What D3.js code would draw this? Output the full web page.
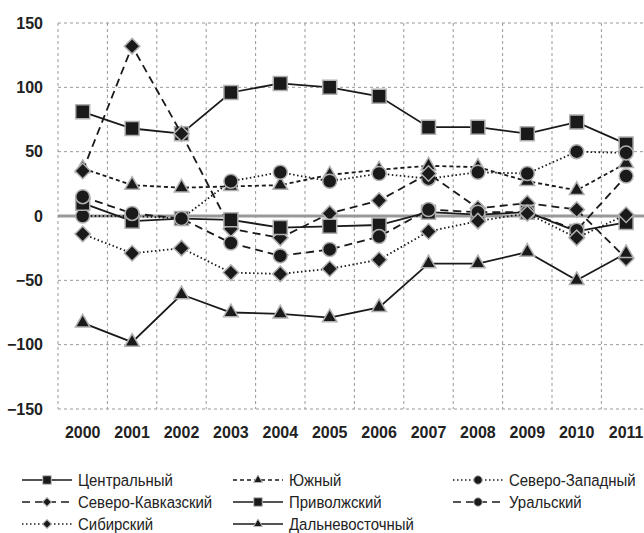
<!DOCTYPE html>
<html>
<head>
<meta charset="utf-8">
<script src="https://cdn.jsdelivr.net/npm/d3@7"></script>
<style>
body { margin: 0; background: #fff; }
svg { display: block; }
.tick text { font-family: "Liberation Sans", Arial, sans-serif; font-weight: bold; font-size: 16px; fill: #222; }
.legend text { font-family: "Liberation Sans", Arial, sans-serif; font-size: 17px; fill: #222; }
</style>
</head>
<body>
<div id="chart"></div>
<script>
var years = ["2000","2001","2002","2003","2004","2005","2006","2007","2008","2009","2010","2011"]
var yTicks = [-150,-100,-50,0,50,100,150]

var names = ["Центральный","Южный","Северо-Западный","Северо-Кавказский","Приволжский","Уральский","Сибирский","Дальневосточный"]

var central   = [81, 68, 64, 96, 103, 100, 93, 69, 69, 64, 73, 56]
var south     = [37, 24, 22, 23, 24, 32, 36, 39, 38, 27, 20, 41]
var northWest = [0, 0, -2, 27, 34, 27, 33, 29, 34, 33, 50, 49]
var northCauc = [35, 132, 64, -10, -17, 2, 12, 33, 6, 10, 5, -33]
var volga     = [10, -4, -2, -3, -9, -8, -7, 3, 1, 3, -12, -5]
var ural      = [15, 2, -2, -21, -31, -26, -16, 5, 3, 3, -11, 31]
var siberia   = [-14, -29, -25, -44, -45, -41, -34, -12, -4, 2, -17, 1]
var farEast   = [-83, -98, -61, -75, -76, -79, -71, -37, -37, -28, -50, -29]

var values = [central, south, northWest, northCauc, volga, ural, siberia, farEast]

// line dash and marker per series
var dashes = ["none", "4,3", "1.5,2.5", "8,5", "none", "8,5", "1.5,2.5", "none"]
var shapes = ["square", "triangle", "circle", "diamond", "square", "circle", "diamond", "triangle"]

var w = 644, h = 533

var svg = d3.select("#chart").append("svg").attr("width", w).attr("height", h)

var x = d3.scaleBand().domain(years).range([58, 58 + 12 * 49.4])
var y = d3.scaleLinear().domain([-150, 150]).range([409, 23])

// grid
svg.append("g").selectAll("line")
	.data(d3.range(13))
	.enter().append("line")
	.attr("x1", function(i){ return 58 + i * x.step() })
	.attr("x2", function(i){ return 58 + i * x.step() })
	.attr("y1", y(150)).attr("y2", y(-150))
	.attr("stroke", "#999").attr("stroke-width", 1).attr("stroke-dasharray", "3,3")

svg.append("g").selectAll("line")
	.data(yTicks.filter(function(d){ return d != 0 }))
	.enter().append("line")
	.attr("x1", 58).attr("x2", w)
	.attr("y1", function(d){ return y(d) })
	.attr("y2", function(d){ return y(d) })
	.attr("stroke", "#999").attr("stroke-width", 1).attr("stroke-dasharray", "3,3")

svg.append("line")
	.attr("x1", 58).attr("x2", w)
	.attr("y1", y(0)).attr("y2", y(0))
	.attr("stroke", "#999").attr("stroke-width", 3)

// axes
var yAxis = svg.append("g")
	.attr("transform", "translate(43,0)")
	.call(d3.axisLeft(y).tickValues(yTicks).tickSize(0).tickPadding(0))
yAxis.select(".domain").remove()

var xAxis = svg.append("g")
	.attr("transform", "translate(0,424)")
	.call(d3.axisBottom(x).tickSize(0).tickPadding(0))
xAxis.select(".domain").remove()
xAxis.selectAll("text").attr("dy", "0.9em")

function symbolPath(shape, s){
	if (shape == "square") return d3.symbol(d3.symbolSquare, s * s)()
	if (shape == "circle") return d3.symbol(d3.symbolCircle, Math.PI * s * s / 4)()
	if (shape == "triangle") return d3.symbol(d3.symbolTriangle, s * s * 0.47)()
	return d3.symbol(d3.symbolSquare, s * s * 0.5)()
}

var line = d3.line()
	.x(function(d, i){ return x(years[i]) + x.bandwidth() / 2 })
	.y(function(d){ return y(d) })

values.forEach(function(vals, k){
	var g = svg.append("g")
	g.append("path")
		.attr("d", line(vals))
		.attr("fill", "none")
		.attr("stroke", "#1a1a1a")
		.attr("stroke-width", 1.8)
		.attr("stroke-dasharray", dashes[k])

	g.selectAll("path.m")
		.data(vals)
		.enter().append("path")
		.attr("class", "m")
		.attr("d", symbolPath(shapes[k], shapes[k] == "diamond" ? 15.5 : 14))
		.attr("transform", function(d, i){
			var t = "translate(" + (x(years[i]) + x.bandwidth() / 2) + "," + y(d) + ")"
			return shapes[k] == "diamond" ? t + " rotate(45)" : t
		})
		.attr("fill", "#1a1a1a")
		.attr("stroke", "#b0b0b0")
		.attr("stroke-width", 1.5)
})

// legend
var colX = [22, 233, 453]
var rowY = [480, 502, 524]

var legend = svg.append("g").attr("class", "legend")
	.selectAll("g")
	.data(names)
	.enter().append("g")
	.attr("transform", function(d, i){
		return "translate(" + colX[i % 3] + "," + rowY[Math.floor(i / 3)] + ")"
	})

legend.append("line")
	.attr("x1", 0).attr("x2", 50)
	.attr("stroke", "#1a1a1a").attr("stroke-width", 1.6)
	.attr("stroke-dasharray", function(d, i){ return dashes[i] })

legend.append("path")
	.attr("d", function(d, i){ return symbolPath(shapes[i], shapes[i] == "diamond" ? 9 : 8.5) })
	.attr("transform", function(d, i){ return shapes[i] == "diamond" ? "translate(25,0) rotate(45)" : "translate(25,0)" })
	.attr("fill", "#1a1a1a")
	.attr("stroke", "#bbb")
	.attr("stroke-width", 1)

// narrow look of the original font
legend.append("text")
	.attr("transform", "translate(56,0) scale(0.88,1)")
	.attr("dy", "0.35em")
	.text(function(d){ return d })
</script>
</body>
</html>
